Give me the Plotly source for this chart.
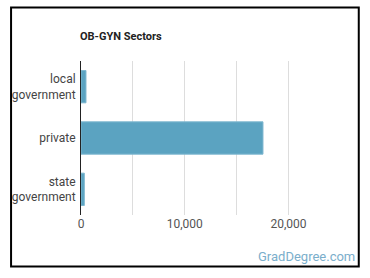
import plotly.graph_objects as go

categories = ["local<br>government", "private", "state<br>government"]
values = [480, 17540, 320]
tick_vals = [0, 5000, 10000, 15000, 20000]
tick_text = ["0", "", "10,000", "", "20,000"]

W, H = 370, 278
L, R, T, B = 79, 40, 61, 63
pw, ph = W - L - R, H - T - B

def px(x):
    return (x - L) / pw

def py(y):
    return (H - B - y) / ph

fig = go.Figure(go.Bar(
    x=values, y=categories, orientation="h",
    marker=dict(color="#5ba3c1", line=dict(color="#7fb8d0", width=1)),
    width=0.63,
))

fig.update_layout(
    width=W, height=H,
    margin=dict(l=L, r=R, t=T, b=B),
    paper_bgcolor="white", plot_bgcolor="white",
    font=dict(family="Roboto", size=12, color="#444"),
    showlegend=False,
    xaxis=dict(range=[0, 24000], tickvals=tick_vals, ticktext=tick_text,
               showgrid=True, gridcolor="#dddddd", gridwidth=1,
               zeroline=False, showline=False, ticks="",
               tickfont=dict(size=12, color="#555")),
    yaxis=dict(categoryorder="array", categoryarray=categories[::-1],
               showline=True, linecolor="#222", linewidth=1,
               showgrid=False, ticks="", ticklabelstandoff=2,
               tickfont=dict(size=12, color="#444")),
    annotations=[
        dict(text="<b>OB-GYN Sectors</b>", xref="paper", yref="paper",
             x=px(76), y=py(37), xanchor="left", yanchor="middle",
             showarrow=False, font=dict(size=11, color="#222")),
        dict(text="GradDegree.com", xref="paper", yref="paper",
             x=px(357), y=py(256), xanchor="right", yanchor="middle",
             showarrow=False, font=dict(size=13, color="#7aaecb")),
    ],
    shapes=[dict(type="rect", xref="paper", yref="paper",
                 x0=px(8.5), x1=px(359), y0=py(266.5), y1=py(7.5),
                 line=dict(color="black", width=2))],
)

fig.write_html("out.html")
